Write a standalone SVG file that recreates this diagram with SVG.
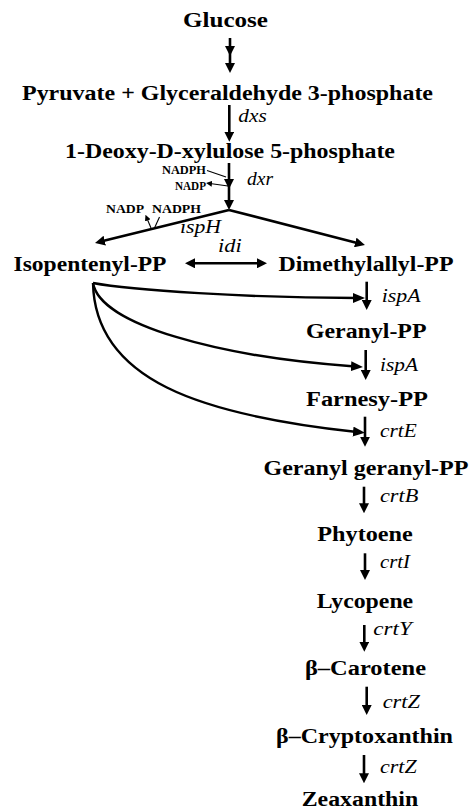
<svg xmlns="http://www.w3.org/2000/svg" width="470" height="812" viewBox="0 0 470 812">
<style>
.n{font-family:"Liberation Serif","Times New Roman",serif;font-weight:bold;font-size:20.5px;fill:#000}
.e{font-family:"Liberation Serif","Times New Roman",serif;font-style:italic;font-size:18px;fill:#000}
.s{font-family:"Liberation Serif","Times New Roman",serif;font-weight:bold;font-size:12px;fill:#000}
.l{fill:none;stroke:#000;stroke-width:2.6}
.c{fill:none;stroke:#000;stroke-width:2.4}
.t{fill:none;stroke:#000;stroke-width:1.1}
</style>
<defs>
<marker id="ah" markerUnits="userSpaceOnUse" markerWidth="10" markerHeight="10" refX="2" refY="5" orient="auto-start-reverse" viewBox="0 0 10 10"><path d="M0,0 L10,5 L0,10 z" fill="#000"/></marker>
<marker id="ahc" markerUnits="userSpaceOnUse" markerWidth="12" markerHeight="10" refX="4" refY="5" orient="auto" viewBox="0 0 12 10"><path d="M0,0 L12,5 L0,10 z" fill="#000"/></marker>
<marker id="sah" markerUnits="userSpaceOnUse" markerWidth="6" markerHeight="6" refX="2" refY="3" orient="auto" viewBox="0 0 6 6"><path d="M0,0 L6,3 L0,6 z" fill="#000"/></marker>
</defs>

<g id="connectors">
<path class="l" d="M230,38 V48 V65" marker-mid="url(#ah)" marker-end="url(#ah)"/>
<path class="l" d="M229.3,105 V133.7" marker-end="url(#ah)"/>
<path class="l" d="M229,163 V181 V202" marker-mid="url(#ah)" marker-end="url(#ah)"/>
<path class="t" d="M207,170.5 L226,177"/>
<path class="t" d="M228,186 L210,183.5" marker-end="url(#sah)"/>
<path class="l" d="M229,210 L102.8,241.1" marker-end="url(#ah)"/>
<path class="l" d="M229,210 L357.2,243" marker-end="url(#ah)"/>
<path class="t" d="M151,228 L147,218.5" marker-end="url(#sah)"/>
<path class="t" d="M159.5,217 L154.5,228"/>
<path class="l" d="M193,263.3 H259" marker-start="url(#ah)" marker-end="url(#ah)"/>
<path class="c" d="M93,283 C130,290 250,298 357,298" marker-end="url(#ahc)"/>
<path class="c" d="M93,283 C100,325 220,357 355,366.5" marker-end="url(#ahc)"/>
<path class="c" d="M93,283 C95,380 200,415 357,432" marker-end="url(#ahc)"/>
<path class="l" d="M366.7,281.7 V302" marker-end="url(#ah)"/>
<path class="l" d="M365.7,350 V372" marker-end="url(#ah)"/>
<path class="l" d="M365,416.7 V438.7" marker-end="url(#ah)"/>
<path class="l" d="M364,486.7 V505.3" marker-end="url(#ah)"/>
<path class="l" d="M365,553.3 V572" marker-end="url(#ah)"/>
<path class="l" d="M364.3,625 V643.7" marker-end="url(#ah)"/>
<path class="l" d="M366.7,686.7 V707" marker-end="url(#ah)"/>
<path class="l" d="M364,755 V775.3" marker-end="url(#ah)"/>
</g>

<g id="glucose"><text class="n" x="183" y="27" textLength="85" lengthAdjust="spacingAndGlyphs">Glucose</text></g>
<g id="pyruvate"><text class="n" x="22" y="100" textLength="411" lengthAdjust="spacingAndGlyphs">Pyruvate + Glyceraldehyde 3-phosphate</text></g>
<g id="dxp"><text class="n" x="65" y="158" textLength="330" lengthAdjust="spacingAndGlyphs">1-Deoxy-D-xylulose 5-phosphate</text></g>
<g id="ipp"><text class="n" x="13.5" y="271" textLength="153" lengthAdjust="spacingAndGlyphs">Isopentenyl-PP</text></g>
<g id="dmapp"><text class="n" x="278.5" y="271" textLength="175" lengthAdjust="spacingAndGlyphs">Dimethylallyl-PP</text></g>
<g id="gpp"><text class="n" x="306" y="338" textLength="120.5" lengthAdjust="spacingAndGlyphs">Geranyl-PP</text></g>
<g id="fpp"><text class="n" x="306" y="406" textLength="122" lengthAdjust="spacingAndGlyphs">Farnesy-PP</text></g>
<g id="ggpp"><text class="n" x="263.5" y="475" textLength="205" lengthAdjust="spacingAndGlyphs">Geranyl geranyl-PP</text></g>
<g id="phytoene"><text class="n" x="317.3" y="541" textLength="95.5" lengthAdjust="spacingAndGlyphs">Phytoene</text></g>
<g id="lycopene"><text class="n" x="316.7" y="608" textLength="96.5" lengthAdjust="spacingAndGlyphs">Lycopene</text></g>
<g id="bcarotene"><text class="n" x="305" y="675" textLength="121" lengthAdjust="spacingAndGlyphs">β–Carotene</text></g>
<g id="bcrypto"><text class="n" x="276" y="743" textLength="177" lengthAdjust="spacingAndGlyphs">β–Cryptoxanthin</text></g>
<g id="zeaxanthin"><text class="n" x="301.7" y="806" textLength="116.5" lengthAdjust="spacingAndGlyphs">Zeaxanthin</text></g>

<g id="labels">
<text class="e" x="238.3" y="122" textLength="28.4" lengthAdjust="spacingAndGlyphs">dxs</text>
<text class="e" x="247" y="185" textLength="26" lengthAdjust="spacingAndGlyphs">dxr</text>
<text class="e" x="180" y="233" textLength="41" lengthAdjust="spacingAndGlyphs">ispH</text>
<text class="e" x="218" y="252" textLength="23.7" lengthAdjust="spacingAndGlyphs">idi</text>
<text class="e" x="381.7" y="301.7" textLength="39" lengthAdjust="spacingAndGlyphs">ispA</text>
<text class="e" x="380" y="371" textLength="38" lengthAdjust="spacingAndGlyphs">ispA</text>
<text class="e" x="380" y="436.7" textLength="36.7" lengthAdjust="spacingAndGlyphs">crtE</text>
<text class="e" x="380" y="501.7" textLength="38.3" lengthAdjust="spacingAndGlyphs">crtB</text>
<text class="e" x="380" y="568.3" textLength="30" lengthAdjust="spacingAndGlyphs">crtI</text>
<text class="e" x="373.3" y="635" textLength="38.4" lengthAdjust="spacingAndGlyphs">crtY</text>
<text class="e" x="382.7" y="708.3" textLength="37.3" lengthAdjust="spacingAndGlyphs">crtZ</text>
<text class="e" x="380" y="773.3" textLength="36.7" lengthAdjust="spacingAndGlyphs">crtZ</text>
<text class="s" x="162" y="174" textLength="44" lengthAdjust="spacingAndGlyphs">NADPH</text>
<text class="s" x="175" y="190" textLength="31" lengthAdjust="spacingAndGlyphs">NADP</text>
<text class="s" x="106" y="213" textLength="38" lengthAdjust="spacingAndGlyphs">NADP</text>
<text class="s" x="152" y="213" textLength="49" lengthAdjust="spacingAndGlyphs">NADPH</text>
</g>
</svg>
